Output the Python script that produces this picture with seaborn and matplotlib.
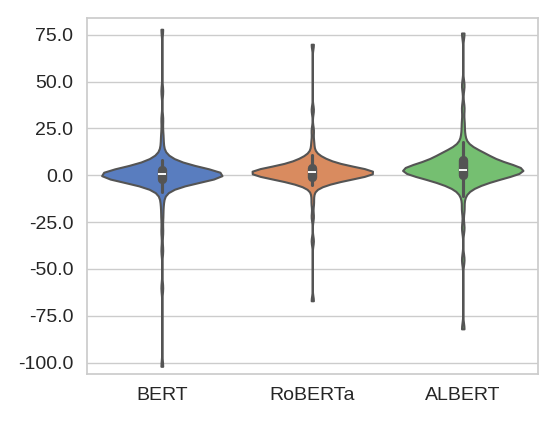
import matplotlib
matplotlib.use("Agg")
import matplotlib.pyplot as plt
import seaborn as sns
import pandas as pd
from matplotlib.ticker import FormatStrFormatter

sns.set_theme(style="whitegrid", palette="muted")
plt.rcParams['font.family'] = ['Liberation Sans', 'DejaVu Sans']

models = ["BERT", "RoBERTa", "ALBERT"]

# hand-read sample values approximating each distribution's shape
bert_core = [-6, -5, -4, -3, -3, -2, -2, -1.5, -1, -1, -0.5, -0.5, 0, 0, 0, 0.5, 0.5, 1, 1, 1,
             1.5, 1.5, 2, 2, 2.5, 3, 3, 4, 5, 6, 7, 8]
bert_tail = [-102, -60, -40, -30, -22, -16, -12, -9, 10, 13, 17, 22, 30, 45, 78]
roberta_core = [-5, -4, -3, -2, -2, -1, -1, -0.5, 0, 0, 0.5, 1, 1, 1.5, 1.5, 2, 2, 2, 2.5,
                2.5, 3, 3, 3.5, 4, 4, 5, 6, 7, 8, 9]
roberta_tail = [-67, -35, -22, -15, -10, 11, 14, 18, 24, 35, 70]
albert_core = [-5, -4, -3, -2, -1, 0, 0, 1, 1, 2, 2, 2.5, 3, 3, 3, 3.5, 4, 4, 5, 5, 6, 7,
               8, 9, 10, 11, 12, 13]
albert_tail = [-82, -45, -28, -18, -11, -8, 15, 18, 22, 28, 36, 48, 76]

bert_vals = bert_core * 3 + bert_tail
roberta_vals = roberta_core * 3 + roberta_tail
albert_vals = albert_core * 3 + albert_tail

df = pd.DataFrame({
    "model": ["BERT"] * len(bert_vals) + ["RoBERTa"] * len(roberta_vals) + ["ALBERT"] * len(albert_vals),
    "value": bert_vals + roberta_vals + albert_vals,
})

fig, ax = plt.subplots(figsize=(5.56, 4.22), dpi=100)
sns.violinplot(data=df, x="model", y="value", hue="model", order=models,
               palette="muted", cut=0, bw_adjust=0.5, linewidth=1.5, ax=ax, legend=False)
ax.set_xlabel("")
ax.set_ylabel("")
ax.set_yticks([-100, -75, -50, -25, 0, 25, 50, 75])
ax.yaxis.set_major_formatter(FormatStrFormatter('%.1f'))
ax.set_ylim(-106, 84)
ax.tick_params(labelsize=14)
plt.tight_layout()
plt.savefig("out.png")
